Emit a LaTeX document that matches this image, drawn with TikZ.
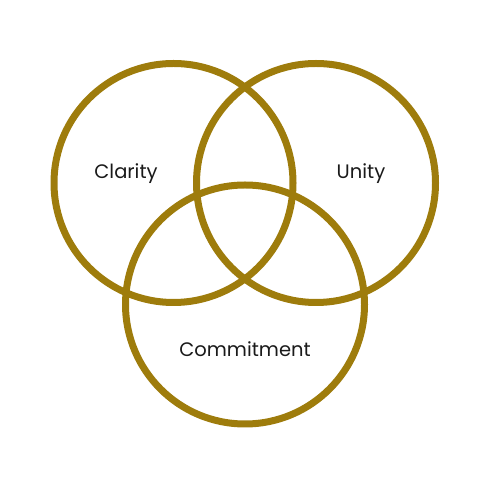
\documentclass[tikz,border=0pt]{standalone}
\usepackage{fontspec}
\setmainfont{Poppins}
\usepackage{tikz}
\usetikzlibrary{positioning}
\definecolor{Gold}{HTML}{9E7C0C}
\definecolor{Ink}{HTML}{1A1A1A}

\begin{document}
\begin{tikzpicture}[x=1pt,y=1pt,
  ring/.style={circle,draw=Gold,line width=7pt,minimum size=239pt,inner sep=0pt},
  word/.style={text=Ink,font=\fontsize{19.5}{22}\selectfont}
]
\useasboundingbox (0,0) rectangle (490,490);
\node[ring] (clarity) at (173.5,307) {};
\node[ring] (unity) at (316,307) {};
\node[ring] (commit) at (245,185.5) {};
\node[word] (lc) at (126,316) {Clarity};
\node[word] (lu) at (361,316) {Unity};
\node[word] (lm) at (245,141) {Commitment};
\end{tikzpicture}
\end{document}
